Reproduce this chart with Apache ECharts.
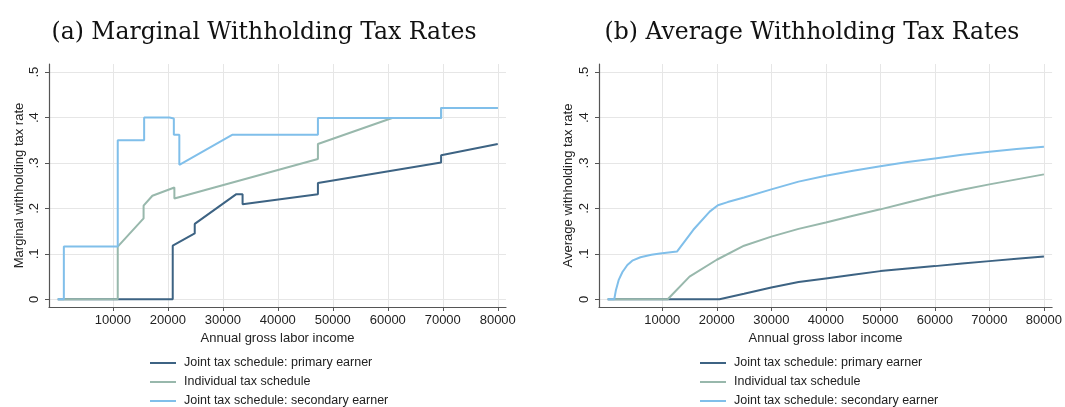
<!DOCTYPE html>
<html>
<head>
<meta charset="utf-8">
<script src="https://cdn.jsdelivr.net/npm/echarts@6/dist/echarts.min.js"></script>
<style>
  html, body { margin: 0; padding: 0; background: #ffffff; }
  #chart { width: 1065px; height: 407px; }
</style>
</head>
<body>
<div id="chart"></div>
<script>
// Series names (shared by both panels)
const seriesNames = [
  'Joint tax schedule: primary earner',
  'Individual tax schedule',
  'Joint tax schedule: secondary earner'
];
const panelTitles = ['(a) Marginal Withholding Tax Rates', '(b) Average Withholding Tax Rates'];
const yAxisTitles = ['Marginal withholding tax rate', 'Average withholding tax rate'];
const xAxisTitle = 'Annual gross labor income';

// Tick positions and labels
const xTicks = [10000, 20000, 30000, 40000, 50000, 60000, 70000, 80000];
const yTicks = [0, 0.1, 0.2, 0.3, 0.4, 0.5];
const yTickLabels = ['0', '.1', '.2', '.3', '.4', '.5'];

// Marginal rates: [income, rate]; repeated incomes mark bracket jumps
const marginalPrimary = [
  [0, 0], [20900, 0], [20900, 0.118], [24900, 0.145], [24900, 0.166],
  [32400, 0.231], [33600, 0.231], [33600, 0.209], [47300, 0.231],
  [47300, 0.256], [69700, 0.301], [69700, 0.317], [80000, 0.342]
];
const marginalIndividual = [
  [0, 0], [10900, 0], [10900, 0.116], [15600, 0.178], [15600, 0.206],
  [17200, 0.228], [21200, 0.246], [21200, 0.222], [47300, 0.309],
  [47300, 0.342], [60800, 0.399], [69700, 0.399], [69700, 0.421], [80000, 0.421]
];
const marginalSecondary = [
  [0, 0], [1100, 0], [1100, 0.116], [10900, 0.116], [10900, 0.35],
  [15700, 0.35], [15700, 0.40], [20300, 0.40], [20300, 0.398], [21100, 0.398],
  [21100, 0.362], [22100, 0.362], [22100, 0.296], [31700, 0.362],
  [47300, 0.362], [47300, 0.399], [69700, 0.399], [69700, 0.421], [80000, 0.421]
];

// Average rates: [income, rate]
const averagePrimary = [
  [0, 0], [20500, 0], [25000, 0.012], [30000, 0.026], [35000, 0.038],
  [40000, 0.046], [45000, 0.054], [50000, 0.062], [55000, 0.068],
  [60000, 0.073], [65000, 0.079], [70000, 0.084], [75000, 0.089], [80000, 0.094]
];
const averageIndividual = [
  [0, 0], [11000, 0], [15000, 0.05], [20000, 0.087], [25000, 0.118],
  [30000, 0.138], [35000, 0.155], [40000, 0.169], [45000, 0.184],
  [50000, 0.198], [55000, 0.213], [60000, 0.228], [65000, 0.241],
  [70000, 0.253], [75000, 0.264], [80000, 0.275]
];
const averageSecondary = [
  [0, 0], [1200, 0], [1500, 0.02], [2000, 0.042], [2700, 0.06],
  [3600, 0.0755], [4500, 0.085], [6000, 0.0925], [8000, 0.098],
  [9600, 0.101], [12700, 0.105], [15700, 0.153], [18700, 0.193],
  [20200, 0.207], [22000, 0.214], [25000, 0.224], [30000, 0.242],
  [35000, 0.259], [40000, 0.272], [45000, 0.283], [50000, 0.293],
  [55000, 0.302], [60000, 0.310], [65000, 0.318], [70000, 0.325],
  [75000, 0.331], [80000, 0.336]
];

const colors = ['#3d6383', '#98b8ac', '#80bfea'];
const sansFont = '"Liberation Sans", Arial, sans-serif';
const serifFont = '"DejaVu Serif", serif';
const axisColor = '#555555';
const gridColor = '#e6e6e6';

function xAxisFor(gridIndex) {
  return {
    type: 'value', gridIndex: gridIndex, min: -1600, max: 81500,
    name: xAxisTitle, nameLocation: 'middle', nameGap: 19,
    nameTextStyle: { fontFamily: sansFont, fontSize: 13, color: '#222' },
    axisLine: { show: true, onZero: false, lineStyle: { color: axisColor, width: 1.2 } },
    axisTick: { show: true, length: 4, customValues: xTicks, lineStyle: { color: axisColor } },
    axisLabel: {
      customValues: xTicks, fontFamily: sansFont, fontSize: 13, color: '#222', margin: 7,
      formatter: function (v) { return String(v); }
    },
    splitLine: { show: true, lineStyle: { color: gridColor, width: 1 } }
  };
}

function yAxisFor(gridIndex, title, gap) {
  return {
    type: 'value', gridIndex: gridIndex, min: -0.017, max: 0.518,
    name: title, nameLocation: 'middle', nameGap: gap,
    nameTextStyle: { fontFamily: sansFont, fontSize: 13, color: '#222' },
    axisLine: { show: true, onZero: false, lineStyle: { color: axisColor, width: 1.2 } },
    axisTick: { show: true, length: 4, customValues: yTicks, lineStyle: { color: axisColor } },
    axisLabel: {
      customValues: yTicks, rotate: 90, fontFamily: sansFont, fontSize: 13, color: '#222', margin: 8,
      formatter: function (v) {
        const i = yTicks.findIndex(t => Math.abs(t - v) < 1e-9);
        return i >= 0 ? yTickLabels[i] : '';
      }
    },
    splitLine: { show: true, lineStyle: { color: gridColor, width: 1 } }
  };
}

function lineSeries(nameIdx, gridIdx, data) {
  return {
    type: 'line', name: seriesNames[nameIdx], xAxisIndex: gridIdx, yAxisIndex: gridIdx,
    data: data, symbol: 'none', showSymbol: false,
    lineStyle: { color: colors[nameIdx], width: 2 },
    itemStyle: { color: colors[nameIdx] },
    emphasis: { disabled: true }
  };
}

function legendFor(left) {
  return {
    orient: 'vertical', left: left, top: 356, height: 70, padding: 0,
    icon: 'rect', itemWidth: 26, itemHeight: 2, itemGap: 5,
    data: seriesNames,
    textStyle: { fontFamily: sansFont, fontSize: 12.5, color: '#222', padding: [0, 0, 0, 3], lineHeight: 14 },
    selectedMode: false
  };
}

const chart = echarts.init(document.getElementById('chart'), null, { renderer: 'canvas' });
chart.setOption({
  animation: false,
  backgroundColor: '#ffffff',
  title: [
    { text: panelTitles[0], left: 259, top: 16, textAlign: 'center',
      textStyle: { fontFamily: serifFont, fontWeight: 'normal', fontSize: 23.5, color: '#111' } },
    { text: panelTitles[1], left: 807, top: 16, textAlign: 'center',
      textStyle: { fontFamily: serifFont, fontWeight: 'normal', fontSize: 23.5, color: '#111' } }
  ],
  grid: [
    { left: 49, top: 64, width: 457, height: 243 },
    { left: 599, top: 64, width: 456, height: 243 }
  ],
  xAxis: [xAxisFor(0), xAxisFor(1)],
  yAxis: [yAxisFor(0, yAxisTitles[0], 23.5), yAxisFor(1, yAxisTitles[1], 24.5)],
  legend: [legendFor(150), legendFor(700)],
  series: [
    lineSeries(0, 0, marginalPrimary),
    lineSeries(1, 0, marginalIndividual),
    lineSeries(2, 0, marginalSecondary),
    lineSeries(0, 1, averagePrimary),
    lineSeries(1, 1, averageIndividual),
    lineSeries(2, 1, averageSecondary)
  ]
});
</script>
</body>
</html>
